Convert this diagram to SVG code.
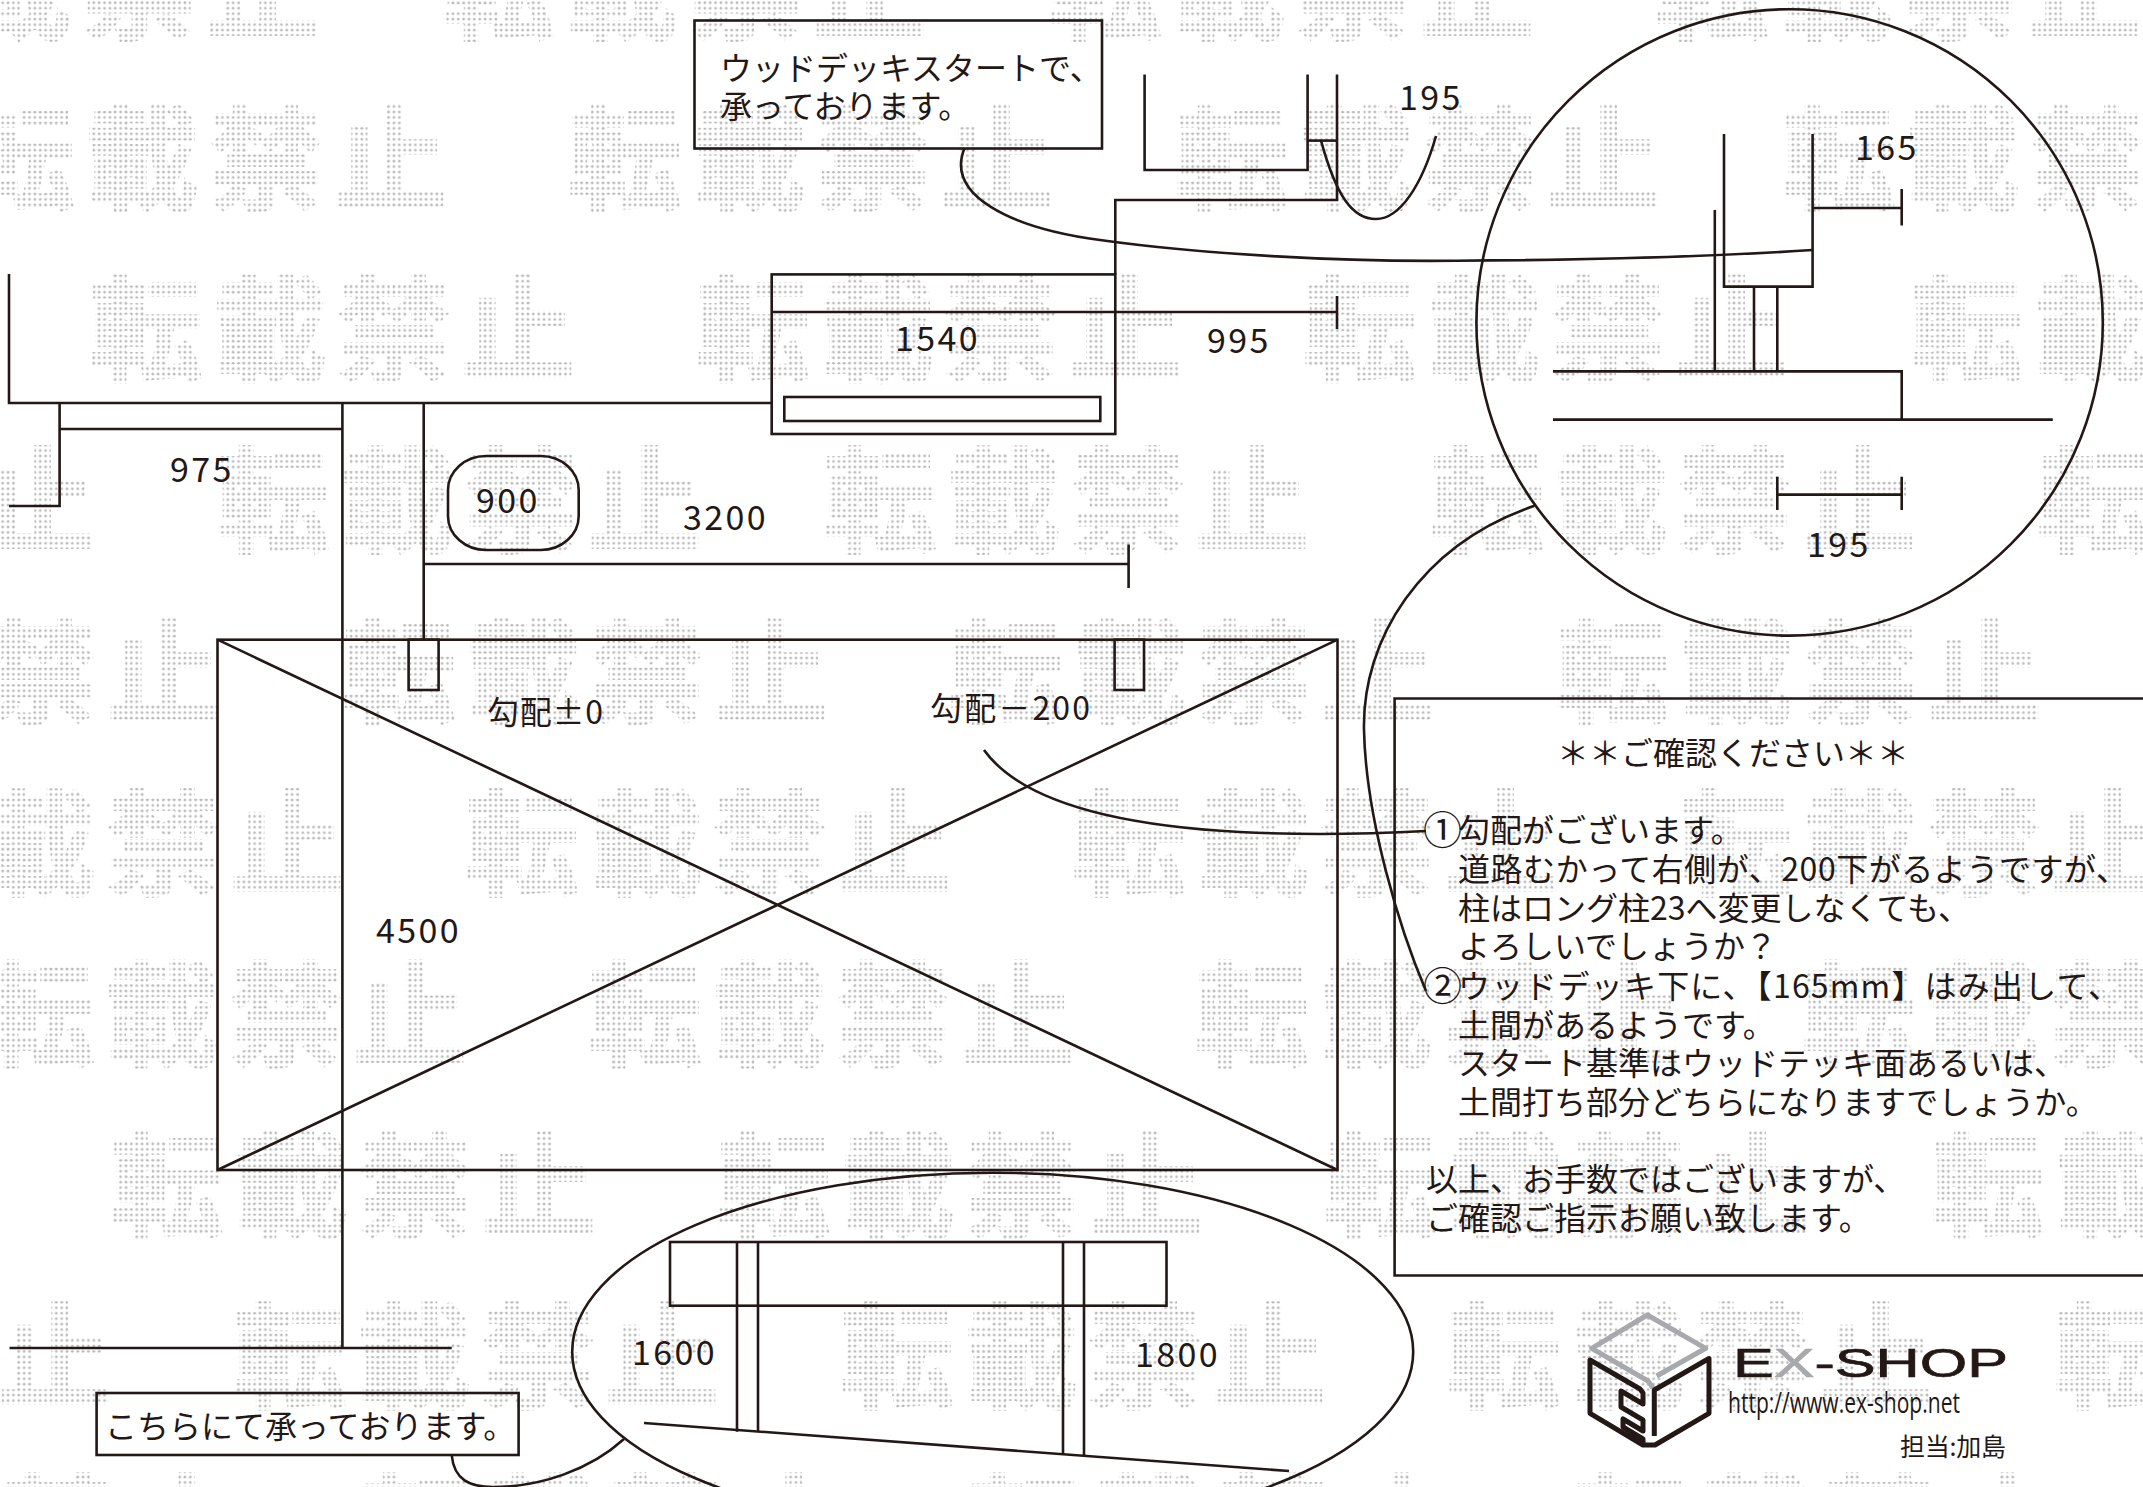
<svg xmlns="http://www.w3.org/2000/svg" width="2143" height="1487" viewBox="0 0 2143 1487">
<style>
text{font-family:"Noto Sans CJK JP","Noto Sans",sans-serif;fill:#231815}
.wm text{font-size:114px;font-weight:700;letter-spacing:10px;fill:url(#dots);stroke:url(#dots);stroke-width:2}
.t{font-size:32px}
.n{font-size:39px}
.d{font-size:34px;letter-spacing:2.4px}
.l,.l *{fill:none;stroke:#231815;stroke-width:2.6;stroke-linejoin:miter}
.c{fill:none;stroke:#231815;stroke-width:2.6}
</style>
<defs>
<pattern id="dots" width="5.36" height="5.46" patternUnits="userSpaceOnUse"><circle cx="2.68" cy="2.73" r="1.45" fill="#bcbcbc"/></pattern>
</defs>
<rect width="2143" height="1487" fill="#fff"/>
<g id="watermark" class="wm">
<text x="-166" y="30">転載禁止</text><text x="441" y="30">転載禁止</text><text x="1048" y="30">転載禁止</text><text x="1655" y="30">転載禁止</text>
<text x="-39" y="201">転載禁止</text><text x="568" y="201">転載禁止</text><text x="1175" y="201">転載禁止</text><text x="1782" y="201">転載禁止</text>
<text x="89" y="372">転載禁止</text><text x="696" y="372">転載禁止</text><text x="1303" y="372">転載禁止</text><text x="1910" y="372">転載禁止</text>
<text x="-391" y="543">転載禁止</text><text x="216" y="543">転載禁止</text><text x="823" y="543">転載禁止</text><text x="1430" y="543">転載禁止</text><text x="2037" y="543">転載禁止</text>
<text x="-265" y="714">転載禁止</text><text x="342" y="714">転載禁止</text><text x="949" y="714">転載禁止</text><text x="1556" y="714">転載禁止</text>
<text x="-142" y="886">転載禁止</text><text x="465" y="886">転載禁止</text><text x="1072" y="886">転載禁止</text><text x="1679" y="886">転載禁止</text>
<text x="-19" y="1057">転載禁止</text><text x="588" y="1057">転載禁止</text><text x="1195" y="1057">転載禁止</text><text x="1802" y="1057">転載禁止</text>
<text x="110" y="1228">転載禁止</text><text x="717" y="1228">転載禁止</text><text x="1324" y="1228">転載禁止</text><text x="1931" y="1228">転載禁止</text>
<text x="-374" y="1399">転載禁止</text><text x="233" y="1399">転載禁止</text><text x="840" y="1399">転載禁止</text><text x="1447" y="1399">転載禁止</text><text x="2054" y="1399">転載禁止</text>
<text x="-247" y="1570">転載禁止</text><text x="360" y="1570">転載禁止</text><text x="967" y="1570">転載禁止</text><text x="1574" y="1570">転載禁止</text>
</g>

<g id="plan" class="l">
<path d="M9 274V403H772"/>
<path d="M59.6 403V506H9"/>
<path d="M59.6 429H342.4"/>
<path d="M342.4 403V1348"/>
<path d="M9.5 1348H451.7"/>
<path d="M423.7 403V640"/>
<path d="M423.7 564H1128.6M1128.6 544.6V588"/>
<rect x="771.7" y="274.4" width="343.6" height="159.6"/>
<rect x="784.3" y="397" width="316" height="24"/>
<path d="M772 312H1337M1337 296V329"/>
<path d="M1115.3 274.4V200H1337V74.5"/>
<path d="M1144.6 74.5V170H1307.6V74.5"/>
<path d="M1307.6 140.6H1337"/>
<rect x="217.5" y="639.7" width="1120" height="530.3"/>
<path d="M217.5 639.7L1337.5 1170M217.5 1170L1337.5 639.7"/>
<rect x="408.6" y="639.7" width="30" height="50.3"/>
<rect x="1114.6" y="639.7" width="29.4" height="50.3"/>
</g>

<g id="note-900">
<rect class="c" x="448" y="456" width="130.7" height="94" rx="38" ry="34"/>
<text class="d" x="476" y="513">900</text>
</g>

<g id="detail-deck" class="l">
<circle cx="1789.6" cy="322.4" r="313.2"/>
<path d="M1724 134V286.6H1812.6V134"/>
<path d="M1714.8 210V371.4"/>
<path d="M1754 286.6V371.4M1777.3 286.6V371.4"/>
<path d="M1553 371.4H1901.7V419.6"/>
<path d="M1553 419.6H2052.8"/>
<path d="M1812.6 208H1901.7M1901.7 189V225.4"/>
<path d="M1777.3 494.6H1901.7M1777.3 476.8V510M1901.7 476.8V510"/>
</g>

<g id="detail-posts" class="l">
<ellipse cx="992.7" cy="1351.7" rx="420.5" ry="179"/>
<rect x="670" y="1242" width="496.5" height="63.7"/>
<path d="M737 1242V1431.7M758 1242V1431.7"/>
<path d="M1063 1242V1455M1084 1242V1455"/>
<path d="M644 1423L1289 1471"/>
</g>

<g id="connectors">
<path class="c" d="M1321 140.6C1336 195 1352 219 1376 219C1400 219 1422 185 1436 136"/>
<path class="c" d="M964.6 148C945 195 1010 228 1100 240C1200 254 1340 262 1456 260.7C1600 260 1720 256 1812.6 250"/>
<path class="c" d="M1534.5 505.8C1420 545 1362 640 1364 730C1366 820 1400 930 1426 991"/>
<path class="c" d="M984 750C1020 800 1110 825 1240 832C1300 835 1370 834 1426 831"/>
<path class="c" d="M451.7 1455C454 1480 470 1487 493 1487C540 1487 590 1470 624 1439"/>
</g>

<g id="labels">
<text class="d" x="170" y="482">975</text>
<text class="d" x="683" y="530">3200</text>
<text class="d" x="895" y="351">1540</text>
<text class="d" x="1207" y="353">995</text>
<text class="d" x="1399" y="110">195</text>
<text class="d" x="1855" y="160">165</text>
<text class="d" x="1807" y="557">195</text>
<text class="d" x="376" y="943">4500</text>
<text class="d" x="632" y="1365">1600</text>
<text class="d" x="1135" y="1367">1800</text>
<text class="t" x="487" y="724" textLength="116">勾配±0</text>
<text class="t" x="930" y="720" textLength="160">勾配－200</text>
</g>

<g id="callout-deck">
<rect class="c" x="694.5" y="20.5" width="407.5" height="128"/>
<text class="t" x="720" y="80">ウッドデッキスタートで、</text>
<text class="t" x="720" y="118">承っております。</text>
</g>

<g id="callout-start">
<rect class="c" x="96.6" y="1393" width="422" height="62"/>
<text class="t" x="105" y="1438">こちらにて承っております。</text>
</g>

<g id="notes">
<path class="c" d="M2143 698.5H1394.6V1275.5H2143"/>
<text class="t" x="1557" y="765">＊＊ご確認ください＊＊</text>
<text class="n" x="1423" y="844">①</text><text class="t" x="1458" y="842">勾配がございます。</text>
<text class="t" x="1458" y="881" textLength="670">道路むかって右側が、200下がるようですが、</text>
<text class="t" x="1458" y="920">柱はロング柱23へ変更しなくても、</text>
<text class="t" x="1458" y="958">よろしいでしょうか？</text>
<text class="n" x="1423" y="1000">②</text><text class="t" x="1458" y="998" textLength="662">ウッドデッキ下に、【165mm】はみ出して、</text>
<text class="t" x="1458" y="1037">土間があるようです。</text>
<text class="t" x="1458" y="1075">スタート基準はウッドテッキ面あるいは、</text>
<text class="t" x="1458" y="1114">土間打ち部分どちらになりますでしょうか。</text>
<text class="t" x="1426" y="1191">以上、お手数ではございますが、</text>
<text class="t" x="1426" y="1230">ご確認ご指示お願い致します。</text>
</g>

<g id="logo">
<path d="M1656.7 1376L1705.7 1348.3L1647.3 1315L1591.7 1348.3L1648 1381L1653 1388" fill="none" stroke="#a7a9ac" stroke-width="5" stroke-linejoin="round"/>
<path d="M1654.3 1436V1390L1709 1358.5V1413.3L1655 1445H1643L1590 1413.3V1360L1640 1389L1643 1393V1404L1621 1391V1407L1643 1420V1431L1623 1419V1427L1643 1439V1445" fill="none" stroke="#231815" stroke-width="5" stroke-linejoin="round"/>
<text x="1733" y="1377" font-size="40" textLength="275" lengthAdjust="spacingAndGlyphs" stroke="#231815" stroke-width=".7" style="font-family:'Liberation Sans',sans-serif">E<tspan style="fill:#a7a9ac;stroke:#a7a9ac">X</tspan>-SHOP</text>
<text x="1728" y="1413" font-size="29" textLength="232" lengthAdjust="spacingAndGlyphs" style="font-family:'Open Sans',sans-serif">http://www.ex-shop.net</text>
<text x="1900" y="1456" font-size="25" textLength="106">担当:加島</text>
</g>
</svg>
